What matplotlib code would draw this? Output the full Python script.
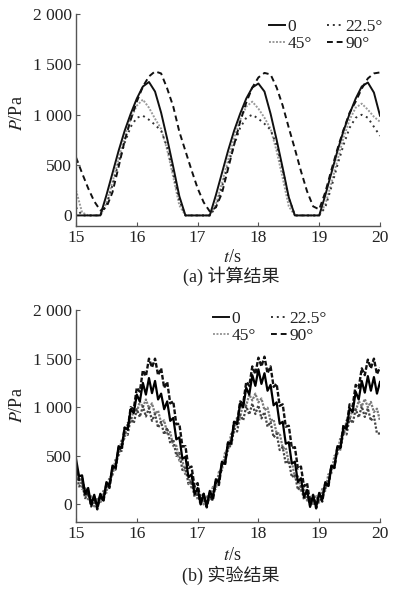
import numpy as np
import matplotlib
matplotlib.use("Agg")
import matplotlib.pyplot as plt
from matplotlib.lines import Line2D

plt.rcParams['font.family'] = ['Liberation Serif', 'Noto Sans CJK SC']
plt.rcParams['mathtext.fontset'] = 'stix'

# ---------------- data ----------------
t_calc = np.round(np.arange(15.0, 20.0001, 0.1), 2)
t_exp = np.round(np.arange(15.0, 20.0001, 0.05), 2)

labels = ['0', '22.5°', '45°', '90°']

calc_0 = [0, 0, 0, 0, 0, 200, 420, 640, 840, 1010, 1160, 1280, 1325, 1230, 1020, 760, 480, 190,
          0, 0, 0, 0, 0, 200, 420, 640, 840, 1010, 1160, 1270, 1310, 1230, 1010, 750, 470, 180,
          0, 0, 0, 0, 0, 200, 420, 640, 840, 1010, 1160, 1280, 1320, 1220, 990]
calc_22 = [80, 0, 0, 0, 0, 100, 300, 520, 720, 880, 970, 990, 950, 900, 840, 680, 420, 150,
           0, 0, 0, 0, 0, 80, 280, 500, 700, 870, 970, 1000, 960, 910, 850, 700, 450, 170,
           0, 0, 0, 0, 0, 80, 280, 500, 700, 870, 970, 1000, 970, 880, 790]
calc_45 = [250, 30, 0, 0, 0, 120, 330, 560, 780, 960, 1090, 1150, 1070, 960, 860, 650, 380, 100,
           0, 0, 0, 0, 0, 110, 320, 550, 770, 950, 1080, 1130, 1060, 970, 860, 640, 370, 90,
           0, 0, 0, 0, 0, 110, 320, 550, 770, 950, 1070, 1110, 1050, 980, 930]
calc_90 = [577, 420, 270, 140, 50, 80, 230, 480, 740, 950, 1130, 1280, 1380, 1430, 1410, 1260, 1080, 830,
           640, 450, 270, 130, 40, 80, 220, 460, 700, 930, 1120, 1270, 1370, 1415, 1400, 1270, 1090, 870,
           660, 440, 240, 90, 60, 230, 450, 660, 850, 1020, 1130, 1260, 1360, 1410, 1420]

exp_0 = [470, 290, 300, 115, 170, 0, 100, -35, 110, 40, 230, 190, 400, 380, 600, 580, 790, 770, 980, 940,
         1130, 1060, 1250, 1130, 1300, 1145, 1270, 1080, 1140, 980, 1060, 860, 890, 670, 690, 470, 490, 280, 310, 105,
         170, 0, 110, -15, 140, 70, 260, 230, 440, 420, 640, 625, 850, 825, 1040, 1000, 1200, 1130, 1330, 1220,
         1390, 1240, 1350, 1170, 1230, 1020, 1050, 830, 850, 625, 640, 420, 440, 230, 270, 75, 150, -25, 90, -30,
         120, 50, 230, 190, 400, 380, 600, 580, 800, 775, 990, 950, 1160, 1080, 1270, 1150, 1320, 1170, 1310, 1140,
         1260]
exp_22 = [350, 185, 220, 65, 120, -10, 70, -20, 100, 50, 210, 190, 370, 365, 560, 550, 740, 715, 890, 835,
          980, 900, 1010, 905, 990, 860, 930, 790, 850, 720, 790, 630, 670, 500, 530, 355, 380, 210, 240, 80,
          120, -5, 80, -5, 120, 80, 240, 230, 420, 415, 610, 595, 780, 750, 920, 865, 1010, 925, 1040, 930,
          1020, 885, 950, 800, 850, 690, 730, 560, 590, 420, 450, 280, 310, 150, 190, 50, 110, -10, 70, -10,
          110, 65, 220, 205, 390, 385, 580, 565, 750, 720, 890, 835, 980, 895, 1010, 900, 990, 860, 910, 730,
          730]
exp_45 = [310, 310, 160, 175, 40, 85, -20, 70, 10, 140, 120, 280, 290, 470, 490, 665, 680, 840, 840, 980,
          950, 1060, 1000, 1080, 990, 1040, 930, 965, 840, 865, 730, 745, 600, 605, 450, 455, 300, 310, 160, 185,
          50, 100, 0, 95, 40, 180, 160, 335, 350, 530, 550, 725, 740, 900, 900, 1040, 1020, 1130, 1070, 1140,
          1050, 1090, 970, 995, 860, 875, 730, 735, 580, 585, 430, 435, 280, 290, 140, 170, 40, 90, -10, 85,
          20, 160, 140, 310, 320, 500, 520, 695, 710, 865, 860, 990, 960, 1065, 1010, 1085, 1000, 1055, 950, 985,
          860]
exp_90 = [420, 250, 270, 90, 140, -20, 80, -50, 100, 30, 210, 170, 380, 360, 580, 565, 790, 775, 1000, 980,
          1200, 1160, 1380, 1320, 1500, 1410, 1500, 1330, 1400, 1200, 1260, 1040, 1060, 825, 830, 595, 600, 375, 390, 185,
          220, 30, 110, -30, 110, 40, 230, 200, 420, 405, 630, 620, 850, 835, 1060, 1040, 1260, 1220, 1420, 1340,
          1510, 1420, 1520, 1350, 1420, 1210, 1240, 1015, 1030, 800, 810, 580, 590, 370, 390, 185, 220, 20, 100, -40,
          100, 30, 210, 180, 390, 375, 600, 590, 820, 805, 1030, 1010, 1230, 1200, 1400, 1330, 1490, 1400, 1500, 1340,
          1410]

yticks = [0, 500, 1000, 1500, 2000]
ytick_labels = ['0', '500', '1 000', '1 500', '2 000']
xticks = [15, 16, 17, 18, 19, 20]

styles = {
    '0': dict(color='#111111', linestyle='-', lw=1.4),
    '22.5°': dict(color='#333333', linestyle=(0, (1, 2)), lw=1.4),
    '45°': dict(color='#9a9a9a', linestyle=(0, (1, 0.8)), lw=1.4),
    '90°': dict(color='#111111', linestyle=(0, (3, 2)), lw=1.4),
}

W, H = 401, 591
fig = plt.figure(figsize=(W / 100, H / 100), dpi=100)
fig.patch.set_facecolor('white')

def fx(px):
    return px / W

def fy(py):
    return 1 - py / H

def style_axes(ax, ylim):
    ax.set_xlim(15, 20)
    ax.set_ylim(*ylim)
    for s in ['top', 'right']:
        ax.spines[s].set_visible(False)
    for s in ['left', 'bottom']:
        ax.spines[s].set_color('#555555')
        ax.spines[s].set_linewidth(1.0)
    ax.set_yticks(yticks)
    ax.set_yticklabels(ytick_labels)
    ax.set_xticks(xticks)
    ax.tick_params(direction='in', length=3, width=0.8, colors='#555555',
                   labelcolor='#222222', labelsize=12.5, pad=3)

# top panel (computed)
ax1 = fig.add_axes([fx(76), fy(225.5), fx(380) - fx(76), fy(14) - fy(225.5)])
ax1.plot(t_calc, calc_45, **styles['45°'])
ax1.plot(t_calc, calc_22, **styles['22.5°'])
ax1.plot(t_calc, calc_90, **styles['90°'])
ax1.plot(t_calc, calc_0, **styles['0'])
style_axes(ax1, (-100, 2000))

# bottom panel (experiment)
ax2 = fig.add_axes([fx(76), fy(522), fx(380) - fx(76), fy(310) - fy(522)])
ax2.plot(t_exp, exp_45, color='#7a7a7a', lw=1.6, linestyle=(0, (1, 0.6)))
ax2.plot(t_exp, exp_22, color='#444444', lw=1.6, linestyle=(0, (1, 0.8)))
ax2.plot(t_exp, exp_90, color='#111111', lw=1.7, linestyle=(0, (2, 0.8)))
ax2.plot(t_exp, exp_0, color='#000000', lw=1.6)
style_axes(ax2, (-180, 2000))

def add_legend(ax, x0, y0):
    handles = [Line2D([], [], **styles[k]) for k in ['0', '45°', '22.5°', '90°']]
    lab = ['0', '45°', '22.5°', '90°']
    leg = ax.legend(handles, lab, ncol=2, frameon=False, fontsize=12.5,
                    handlelength=0.9, handletextpad=0.15, columnspacing=0.9,
                    labelspacing=0.05, borderpad=0, borderaxespad=0,
                    loc='upper left', bbox_to_anchor=(x0, y0),
                    bbox_transform=fig.transFigure)
    for txt in leg.get_texts():
        txt.set_color('#222222')

add_legend(ax1, fx(269), fy(19))
add_legend(ax2, fx(213), fy(311))

# axis labels and captions
fig.text(fx(17), fy(113), '$P$/Pa', rotation=90, ha='center', va='center', fontsize=13, color='#222222')
fig.text(fx(17), fy(405), '$P$/Pa', rotation=90, ha='center', va='center', fontsize=13, color='#222222')
fig.text(fx(232), fy(257), '$t$/s', ha='center', va='center', fontsize=13, color='#222222')
fig.text(fx(232), fy(555), '$t$/s', ha='center', va='center', fontsize=13, color='#222222')
fig.text(fx(231), fy(276), '(a) 计算结果', ha='center', va='center', fontsize=13, color='#222222')
fig.text(fx(231), fy(575), '(b) 实验结果', ha='center', va='center', fontsize=13, color='#222222')

fig.savefig('out.png', dpi=100, facecolor='white')
